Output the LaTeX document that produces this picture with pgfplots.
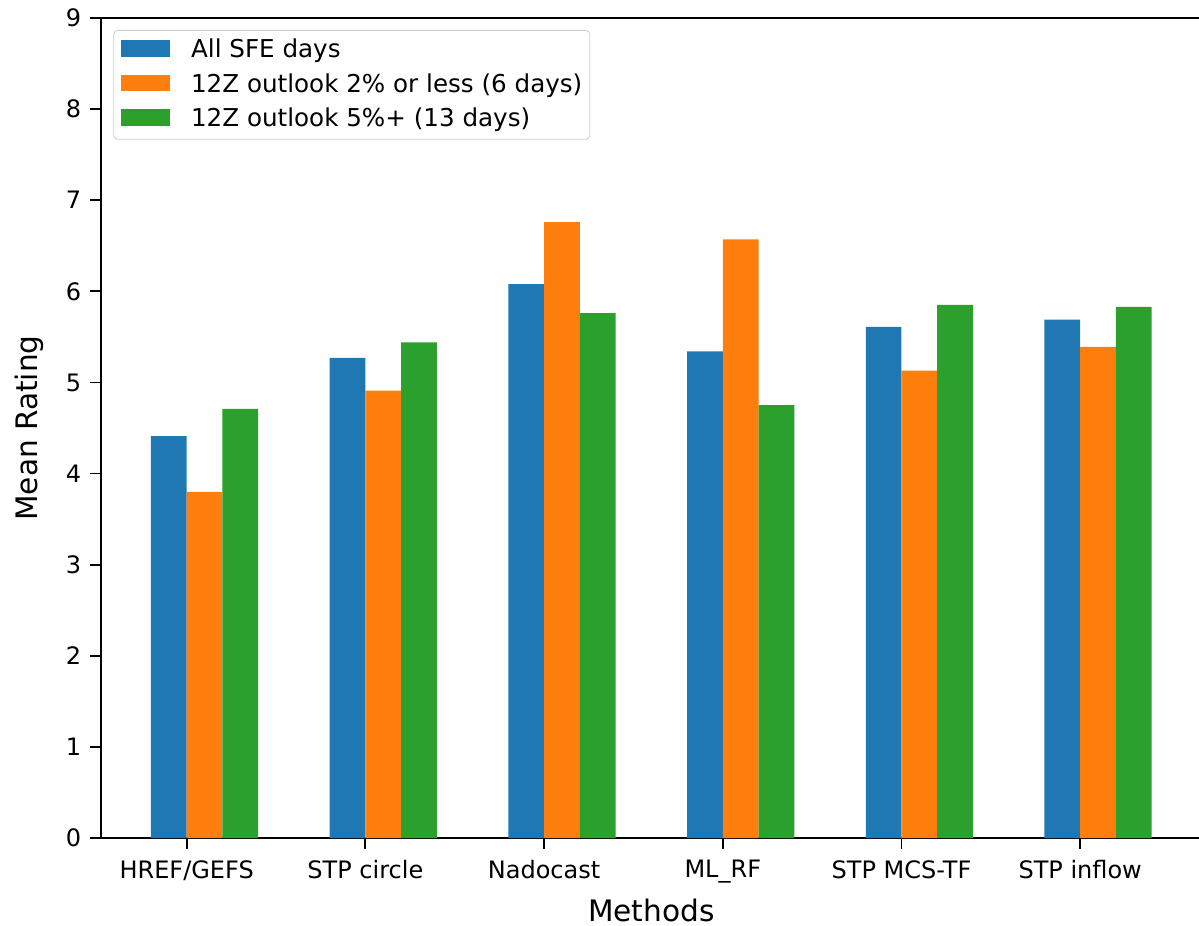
\documentclass[border=0pt]{standalone}
\usepackage{fontspec}
\setmainfont{DejaVu Sans}
\usepackage{pgfplots}
\pgfplotsset{compat=1.18}
\definecolor{cblue}{HTML}{1F77B4}
\definecolor{corange}{HTML}{FF7F0E}
\definecolor{cgreen}{HTML}{2CA02C}
\begin{document}
\begin{tikzpicture}
\begin{axis}[
  at={(0pt,0pt)}, anchor=south west,
  scale only axis, width=550.4pt, height=410pt,
  xmin=-0.48, xmax=5.68, ymin=0, ymax=9,
  ybar, bar width=0.2,
  xtick={0,1,2,3,4,5},
  xticklabels={HREF/GEFS, STP circle, Nadocast, ML\_RF, STP MCS-TF, STP inflow},
  ytick={0,1,2,3,4,5,6,7,8,9},
  tick align=outside, major tick length=5.3pt,
  tick pos=left,
  tick style={black, line width=0.9pt},
  axis line style={line width=0.9pt},
  /pgf/number format/assume math mode=true,
  ticklabel style={font=\fontsize{12}{14}\selectfont},
  xticklabel style={yshift=-2.4pt},
  yticklabel style={xshift=-1pt},
  xlabel={Methods}, ylabel={Mean Rating},
  label style={font=\fontsize{14.8}{17}\selectfont},
  xlabel style={at={(axis description cs:0.5,-0.0735)}, anchor=north, inner sep=0pt},
  ylabel style={at={(axis description cs:-0.0576,0.5)}, anchor=base, inner sep=0pt},
  legend cell align=left,
  legend image code/.code={\fill[#1, sharp corners, fill opacity=1] (0pt,0.34pt) rectangle (24.7pt,8.64pt);},
  legend style={at={(0.01126,0.98537)}, anchor=north west,
    draw=black!20, rounded corners=2pt, fill=white, fill opacity=0.8, text opacity=1,
    inner xsep=3.7pt, inner ysep=2pt, row sep=1.16pt, column sep=10.3pt,
    font=\fontsize{12.3}{14}\selectfont,
    nodes={inner sep=0pt, text height=11.64pt, text depth=4.4pt, anchor=base west}},
]
\addplot[fill=cblue, draw=none, bar shift=-0.1] coordinates {
  (0,4.41) (1,5.27) (2,6.08) (3,5.34) (4,5.61) (5,5.69)};
\addplot[fill=corange, draw=none, bar shift=0.1] coordinates {
  (0,3.80) (1,4.91) (2,6.76) (3,6.57) (4,5.13) (5,5.39)};
\addplot[fill=cgreen, draw=none, bar shift=0.3] coordinates {
  (0,4.71) (1,5.44) (2,5.76) (3,4.75) (4,5.85) (5,5.83)};
\legend{All SFE days, 12Z outlook 2\% or less (6 days), 12Z outlook 5\%+ (13 days)}
\end{axis}
\pgfresetboundingbox
\path[use as bounding box] (-50.45pt,-44pt) rectangle (549.05pt,419pt);
\end{tikzpicture}
\end{document}
